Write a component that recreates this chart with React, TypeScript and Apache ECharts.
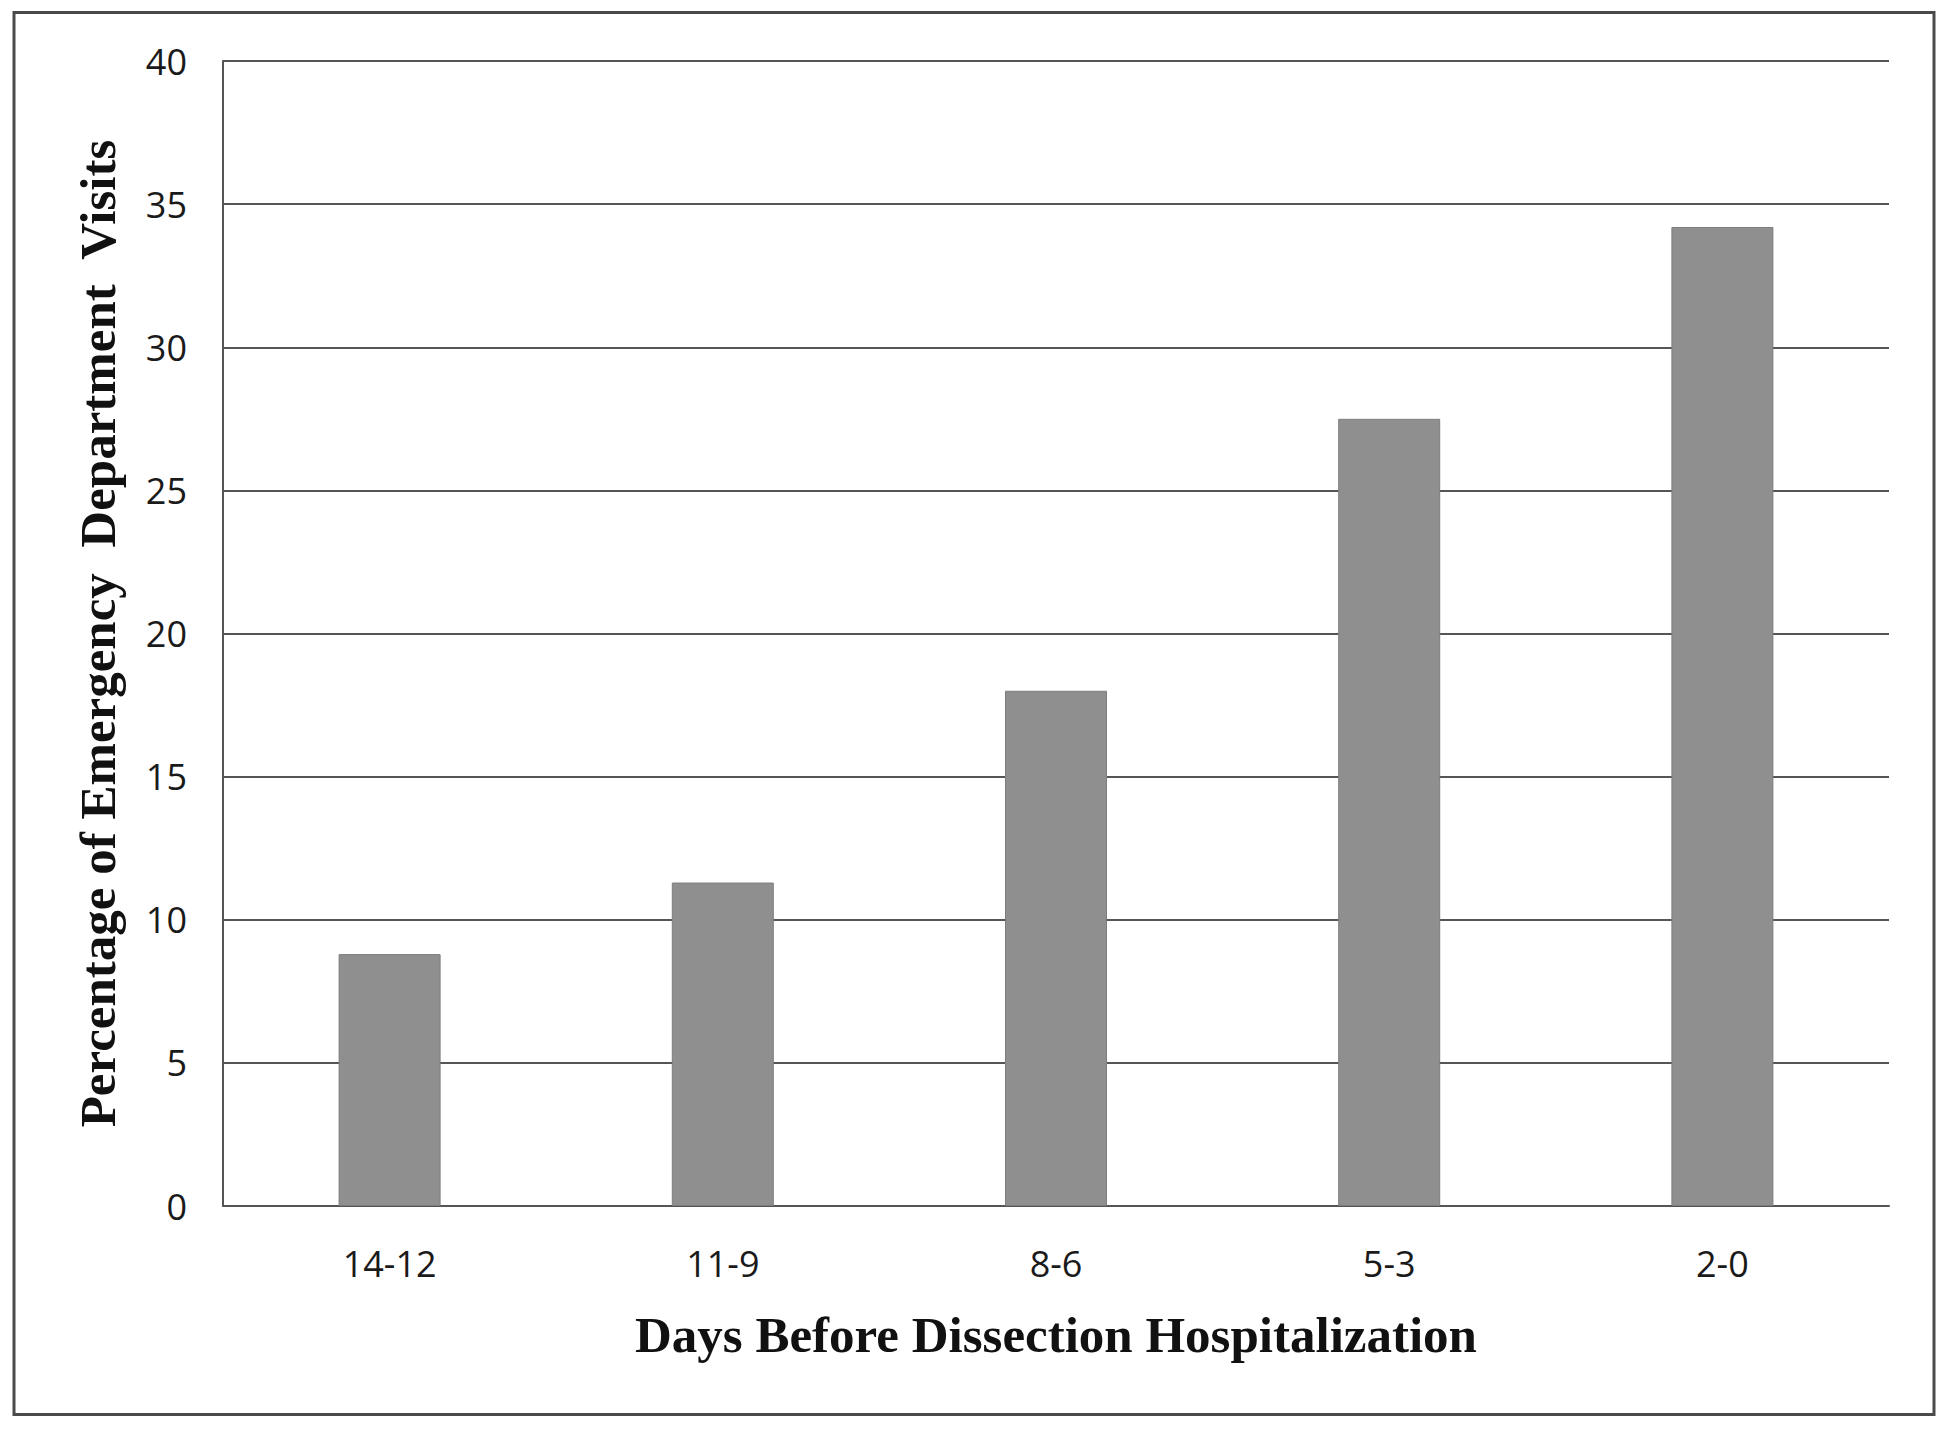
import React, { useEffect, useRef } from "react";
import * as echarts from "echarts";

const categories = ["14-12", "11-9", "8-6", "5-3", "2-0"];
const visitPercent = [8.8, 11.3, 18.0, 27.5, 34.2];
const xTitle = "Days Before Dissection Hospitalization";
const yTitle = "Percentage of Emergency  Department  Visits";

export default function App() {
  const ref = useRef<HTMLDivElement>(null);
  useEffect(() => {
    if (!ref.current) return;
    const chart = echarts.init(ref.current, null, { renderer: "svg" });
    chart.setOption({
      animation: false,
      backgroundColor: "#ffffff",
      graphic: [
        {
          type: "rect",
          shape: { x: 14, y: 12.5, width: 1920, height: 1402 },
          style: { fill: "none", stroke: "#4a4a4a", lineWidth: 3 },
          silent: true,
        },
      ],
      grid: { left: 223, right: 61, top: 61, bottom: 225 },
      xAxis: {
        type: "category",
        data: categories,
        axisLine: { show: true, lineStyle: { color: "#555", width: 2 } },
        axisTick: { show: false },
        axisLabel: {
          color: "#1a1a1a",
          fontFamily: "Open Sans",
          fontSize: 36,
          margin: 39,
        },
        name: xTitle,
        nameLocation: "middle",
        nameGap: 103,
        nameTextStyle: {
          fontFamily: "Liberation Serif",
          fontWeight: "bold",
          fontSize: 51,
          color: "#111",
        },
      },
      yAxis: {
        type: "value",
        min: 0,
        max: 40,
        interval: 5,
        axisLine: { show: true, lineStyle: { color: "#555", width: 2 } },
        axisTick: { show: false },
        splitLine: { show: true, lineStyle: { color: "#555", width: 2 } },
        axisLabel: {
          color: "#1a1a1a",
          fontFamily: "Open Sans",
          fontSize: 36,
          margin: 36,
        },
        name: yTitle,
        nameLocation: "middle",
        nameGap: 100,
        nameRotate: 90,
        nameTextStyle: {
          fontFamily: "Liberation Serif",
          fontWeight: "bold",
          fontSize: 51,
          color: "#111",
        },
      },
      series: [
        {
          type: "bar",
          data: visitPercent,
          barWidth: 102,
          itemStyle: { color: "#8f8f8f", borderColor: "#7d7d7d", borderWidth: 1 },
        },
      ],
    });
    return () => chart.dispose();
  }, []);
  return (
    <div
      ref={ref}
      style={{ position: "absolute", left: 0, top: 0, width: 1950, height: 1431 }}
    />
  );
}
